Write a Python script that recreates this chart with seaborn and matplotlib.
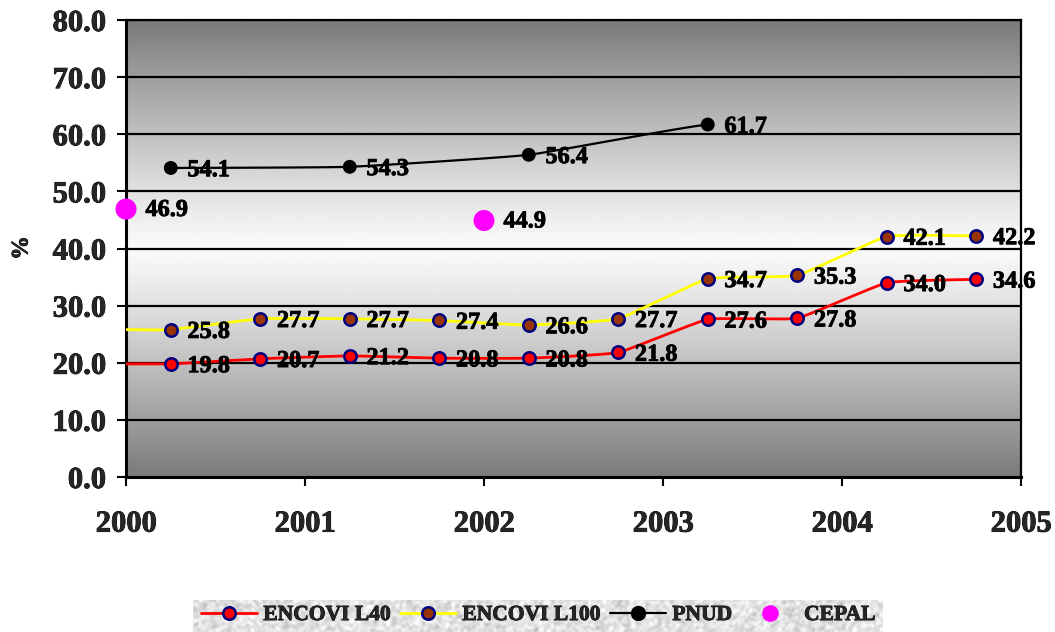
import numpy as np
import pandas as pd
import matplotlib
matplotlib.use("Agg")
import matplotlib.pyplot as plt
import matplotlib.patheffects as pe
from matplotlib.lines import Line2D
import seaborn as sns

# ---- data -------------------------------------------------------------
semesters = [2000.25, 2000.75, 2001.25, 2001.75, 2002.25,
             2002.75, 2003.25, 2003.75, 2004.25, 2004.75]
encovi_l40 = [19.8, 20.7, 21.2, 20.8, 20.8, 21.8, 27.6, 27.8, 34.0, 34.6]
encovi_l100 = [25.8, 27.7, 27.7, 27.4, 26.6, 27.7, 34.7, 35.3, 42.1, 42.2]
pnud_x = [2000.25, 2001.25, 2002.25, 2003.25]
pnud = [54.1, 54.3, 56.4, 61.7]
cepal_x = [2000, 2002]
cepal = [46.9, 44.9]
year_ticks = [2000, 2001, 2002, 2003, 2004, 2005]
y_ticks = [0, 10, 20, 30, 40, 50, 60, 70, 80]
series_names = ["ENCOVI L40", "ENCOVI L100", "PNUD", "CEPAL"]

sns.set_theme(style="white")
plt.rcParams["font.family"] = ["Liberation Serif", "DejaVu Serif"]
plt.rcParams["font.weight"] = "bold"

BOLDER = [pe.withStroke(linewidth=0.6, foreground="black")]


def smooth_curve(x, y, steps=24, tension=0.18):
    """Cardinal spline through the points (lightly smoothed line)."""
    x = np.asarray(x, float)
    y = np.asarray(y, float)
    px = np.concatenate([[2 * x[0] - x[1]], x, [2 * x[-1] - x[-2]]])
    py = np.concatenate([[y[0]], y, [y[-1]]])
    xs, ys = [], []
    for i in range(1, len(px) - 2):
        t = np.linspace(0, 1, steps, endpoint=(i == len(px) - 3))
        h00 = 2 * t ** 3 - 3 * t ** 2 + 1
        h10 = t ** 3 - 2 * t ** 2 + t
        h01 = -2 * t ** 3 + 3 * t ** 2
        h11 = t ** 3 - t ** 2
        for arr, out in ((px, xs), (py, ys)):
            m1 = tension * (arr[i + 1] - arr[i - 1])
            m2 = tension * (arr[i + 2] - arr[i])
            out.append(h00 * arr[i] + h10 * m1 + h01 * arr[i + 1] + h11 * m2)
    return np.concatenate(xs), np.concatenate(ys)


fig = plt.figure(figsize=(10.55, 6.32), dpi=100)
ax = fig.add_axes([126 / 1055, 1 - 477 / 632, 895 / 1055, 457 / 632])

x0, x1 = year_ticks[0], year_ticks[-1]
y0, y1 = y_ticks[0], y_ticks[-1]

# plot-area fill: dark at top and bottom, light in the middle
yy = np.linspace(y1, y0, 400)
mid = (y0 + y1) / 2
dist = np.abs(yy - mid) / (y1 - mid)
gray = (250 - 128 * dist ** 1.15) / 255
grad = np.repeat(gray[:, None], 2, axis=1)
ax.imshow(grad, extent=[x0, x1, y0, y1], aspect="auto", cmap="gray",
          vmin=0, vmax=1, zorder=0, interpolation="bilinear")

# horizontal grid
for v in y_ticks[1:]:
    ax.axhline(v, color="black", lw=1.6, zorder=1)

# smoothed lines (the ENCOVI series run from the start of the axis)
curves = [
    ([x0] + semesters, [encovi_l40[0]] + encovi_l40, "#ff0000", 2.0),
    ([x0] + semesters, [encovi_l100[0]] + encovi_l100, "#ffff00", 2.0),
    (pnud_x, pnud, "#000000", 1.6),
]
for xs, ys, col, lw in curves:
    cx, cy = smooth_curve(xs, ys)
    sns.lineplot(x=cx, y=cy, ax=ax, color=col, lw=lw, sort=False,
                 estimator=None, zorder=3)

# markers
sns.scatterplot(x=semesters, y=encovi_l40, ax=ax, s=80, color="#ff0000",
                edgecolor="#000080", linewidth=1.8, zorder=4, clip_on=False)
sns.scatterplot(x=semesters, y=encovi_l100, ax=ax, s=80, color="#993300",
                edgecolor="#000080", linewidth=1.8, zorder=4, clip_on=False)
sns.scatterplot(x=pnud_x, y=pnud, ax=ax, s=100, color="#000000",
                edgecolor="none", linewidth=0, zorder=4, clip_on=False)
sns.scatterplot(x=cepal_x, y=cepal, ax=ax, s=230, color="#ff00ff",
                edgecolor="none", linewidth=0, zorder=4, clip_on=False)

# value labels
lab_kw = dict(textcoords="offset points", va="center", ha="left",
              fontsize=17.5, fontweight="bold", color="black", zorder=5,
              path_effects=BOLDER)
for xs, ys in ((semesters, encovi_l40), (semesters, encovi_l100), (pnud_x, pnud)):
    for x, y in zip(xs, ys):
        ax.annotate(f"{y:.1f}", (x, y), xytext=(12, -2), **lab_kw)
for x, y in zip(cepal_x, cepal):
    ax.annotate(f"{y:.1f}", (x, y), xytext=(14, -1), **lab_kw)

# axes
ax.set_xlim(x0, x1)
ax.set_ylim(y0, y1)
ax.set_xticks(year_ticks)
ax.set_xticklabels([str(t) for t in year_ticks])
ax.set_yticks(y_ticks)
ax.set_yticklabels([f"{t:.1f}" for t in y_ticks])
ax.tick_params(axis="both", which="both", direction="out", length=6.5,
               width=1.5, color="black", labelsize=22, bottom=True, left=True)
ax.tick_params(axis="x", pad=17)
ax.tick_params(axis="y", pad=8)
for lab in ax.get_xticklabels() + ax.get_yticklabels():
    lab.set_fontweight("bold")
    lab.set_path_effects(BOLDER)
for side, w in (("left", 2.2), ("bottom", 2.2), ("right", 1.6), ("top", 1.6)):
    ax.spines[side].set_visible(True)
    ax.spines[side].set_color("black")
    ax.spines[side].set_linewidth(w)
ax.set_xlabel("")
fig.text(22 / 1055, 1 - 248 / 632, "%", rotation=90, ha="center", va="center",
         fontsize=17, fontweight="bold", path_effects=BOLDER)

# legend
handles = [
    Line2D([], [], color="#ff0000", lw=2, marker="o", markersize=9,
           markerfacecolor="#ff0000", markeredgecolor="#000080", markeredgewidth=1.8),
    Line2D([], [], color="#ffff00", lw=2, marker="o", markersize=9,
           markerfacecolor="#993300", markeredgecolor="#000080", markeredgewidth=1.8),
    Line2D([], [], color="#000000", lw=1.6, marker="o", markersize=10,
           markerfacecolor="#000000", markeredgecolor="#000000"),
    Line2D([], [], color="none", lw=0, marker="o", markersize=11,
           markerfacecolor="#ff00ff", markeredgecolor="#ff00ff"),
]
leg = fig.legend(handles, series_names, loc="center", ncol=4,
                 bbox_to_anchor=(538 / 1055, 1 - 615 / 632),
                 frameon=False,
                 prop={"size": 15.5, "weight": "bold"},
                 handlelength=2.6, handletextpad=0.3, columnspacing=0.45,
                 borderpad=0.3)
for t in leg.get_texts():
    t.set_path_effects(BOLDER)

# grainy light-grey fill behind the legend
bx0, bx1 = 193 / 1055, 883 / 1055
by0, by1 = 0.0, 1 - 600 / 632
tex_ax = fig.add_axes([bx0, by0, bx1 - bx0, by1 - by0], zorder=-1)
rng = np.random.default_rng(7)
noise = rng.normal(size=(34, 700))
k = np.ones(3) / 3
for _ in range(2):
    noise = np.apply_along_axis(lambda r: np.convolve(r, k, mode="same"), 1, noise)
    noise = np.apply_along_axis(lambda c: np.convolve(c, k, mode="same"), 0, noise)
noise = noise / noise.std()
tex = np.clip(0.89 + 0.045 * noise, 0, 1)
tex_ax.imshow(tex, cmap="gray", vmin=0, vmax=1, aspect="auto",
              interpolation="bilinear")
tex_ax.set_axis_off()

fig.savefig("out.png", dpi=100)
